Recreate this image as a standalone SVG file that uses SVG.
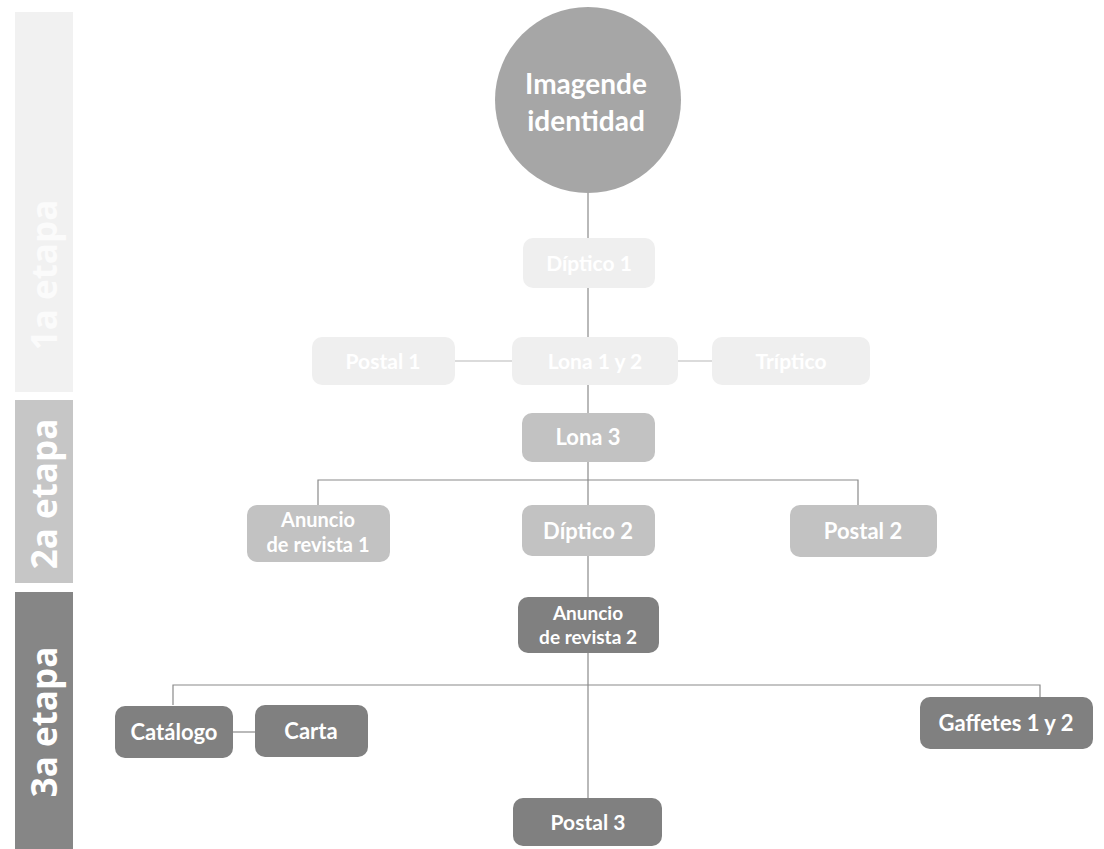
<svg xmlns="http://www.w3.org/2000/svg" width="1104" height="849" viewBox="0 0 1104 849">
<style>
.lbl{font-family:"Lato","Open Sans",sans-serif;font-weight:bold;fill:#ffffff;text-anchor:middle}
.side{font-family:"Open Sans","Noto Sans",sans-serif;font-weight:bold;fill:#ffffff;font-size:35px;text-anchor:middle}
.c{stroke:#8a8a8a;stroke-width:1.2;fill:none}
.s1{fill:#efefef}
.s2{fill:#c2c2c2}
.s3{fill:#808080}
</style>
<rect width="1104" height="849" fill="#ffffff"/>
<g id="bars">
<rect x="15" y="12" width="58" height="380" fill="#f1f1f1"/>
<text class="side" transform="translate(57,275) rotate(-90)" style="fill:#fbfbfb">1a etapa</text>
<rect x="15" y="400" width="58" height="183" fill="#c6c6c6"/>
<text class="side" transform="translate(57,494) rotate(-90)">2a etapa</text>
<rect x="15" y="592" width="58" height="257" fill="#868686"/>
<text class="side" transform="translate(57,722) rotate(-90)">3a etapa</text>
</g>
<g id="connectors">
<line class="c" x1="588" y1="193" x2="588" y2="798"/>
<line class="c" x1="455" y1="361" x2="512" y2="361" style="stroke:#b8b8b8"/>
<line class="c" x1="678" y1="361" x2="712" y2="361" style="stroke:#b8b8b8"/>
<polyline class="c" points="318,505 318,480 858,480 858,505"/>
<polyline class="c" points="173,705 173,685 1040,685 1040,697"/>
<line class="c" x1="233" y1="732" x2="255" y2="732"/>
</g>
<g id="n-imagen">
<circle cx="588" cy="100" r="93" fill="#a6a6a6"/>
<text class="lbl" x="586" y="94" font-size="28">Imagende</text>
<text class="lbl" x="586" y="131" font-size="28">identidad</text>
</g>
<g id="n-diptico1">
<rect class="s1" x="523" y="238" width="132" height="50" rx="10"/>
<text class="lbl" x="589" y="271" font-size="21">Díptico 1</text>
</g>
<g id="n-postal1">
<rect class="s1" x="312" y="337" width="143" height="48" rx="10"/>
<text class="lbl" x="383" y="369" font-size="21">Postal 1</text>
</g>
<g id="n-lona12">
<rect class="s1" x="512" y="337" width="166" height="48" rx="10"/>
<text class="lbl" x="595" y="369" font-size="21">Lona 1 y 2</text>
</g>
<g id="n-triptico">
<rect class="s1" x="712" y="337" width="158" height="48" rx="10"/>
<text class="lbl" x="791" y="369" font-size="21">Tríptico</text>
</g>
<g id="n-lona3">
<rect class="s2" x="522" y="413" width="133" height="49" rx="10"/>
<text class="lbl" x="588" y="445" font-size="22">Lona 3</text>
</g>
<g id="n-anuncio1">
<rect class="s2" x="247" y="505" width="143" height="57" rx="10"/>
<text class="lbl" x="318" y="527" font-size="20">Anuncio</text>
<text class="lbl" x="318" y="552" font-size="20">de revista 1</text>
</g>
<g id="n-diptico2">
<rect class="s2" x="522" y="505" width="133" height="51" rx="10"/>
<text class="lbl" x="588" y="539" font-size="22">Díptico 2</text>
</g>
<g id="n-postal2">
<rect class="s2" x="790" y="505" width="147" height="52" rx="10"/>
<text class="lbl" x="863" y="539" font-size="22">Postal 2</text>
</g>
<g id="n-anuncio2">
<rect class="s3" x="518" y="597" width="141" height="56" rx="10"/>
<text class="lbl" x="588" y="620" font-size="19">Anuncio</text>
<text class="lbl" x="588" y="644" font-size="19">de revista 2</text>
</g>
<g id="n-catalogo">
<rect class="s3" x="115" y="706" width="118" height="52" rx="10"/>
<text class="lbl" x="174" y="740" font-size="22">Catálogo</text>
</g>
<g id="n-carta">
<rect class="s3" x="255" y="705" width="113" height="52" rx="10"/>
<text class="lbl" x="311" y="739" font-size="22">Carta</text>
</g>
<g id="n-gaffetes">
<rect class="s3" x="920" y="697" width="173" height="52" rx="10"/>
<text class="lbl" x="1006" y="731" font-size="22">Gaffetes 1 y 2</text>
</g>
<g id="n-postal3">
<rect class="s3" x="513" y="798" width="149" height="48" rx="10"/>
<text class="lbl" x="588" y="830" font-size="21">Postal 3</text>
</g>
</svg>
